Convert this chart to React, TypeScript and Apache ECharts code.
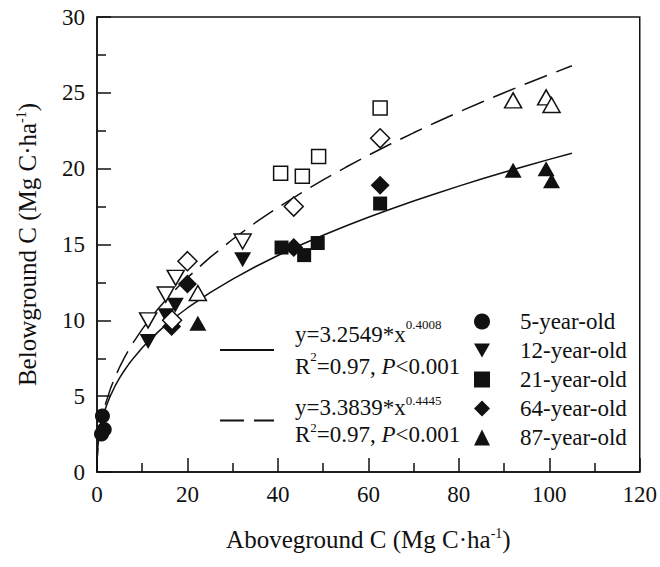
import React, { useEffect, useRef } from 'react';
import * as echarts from 'echarts';

const FONT = 'Liberation Serif';
const INK = '#111111';

// Axis ranges / ticks
const X_MIN = 0, X_MAX = 120, X_STEP = 20;
const Y_MIN = 0, Y_MAX = 30, Y_STEP = 5;

// Series names
const ageNames = ['5-year-old', '12-year-old', '21-year-old', '64-year-old', '87-year-old'];

// Filled symbols: [aboveground C, belowground C]
const age5 = [[1.2, 3.7], [1.0, 2.5], [1.6, 2.8]];
const age12Filled = [[11.3, 8.6], [15.3, 10.3], [17.3, 11.0], [32.2, 14.0]];
const age21Filled = [[40.8, 14.8], [45.8, 14.3], [48.8, 15.1], [62.6, 17.7]];
const age64Filled = [[16.5, 9.6], [20.0, 12.4], [43.5, 14.8], [62.6, 18.9]];
const age87Filled = [[22.3, 9.8], [92.0, 19.9], [99.3, 20.0], [100.5, 19.2]];

// Open symbols
const age12Open = [[11.3, 10.0], [15.2, 11.7], [17.4, 12.8], [32.2, 15.2]];
const age21Open = [[40.6, 19.7], [45.4, 19.5], [49.0, 20.8], [62.6, 24.0]];
const age64Open = [[16.6, 10.0], [20.0, 13.9], [43.5, 17.5], [62.6, 22.0]];
const age87Open = [[22.3, 11.8], [92.0, 24.5], [99.3, 24.7], [100.5, 24.2]];

// Fitted power curves y = a * x^b (as printed on the chart)
const fit1 = { a: 3.2549, b: 0.4008 };
const fit2 = { a: 3.3839, b: 0.4445 };
const fitX = [0, 0.05, 0.2, 0.5, 1, 1.5, 2, 3, 4, 5, 6, 7, 8, 10, 12, 14, 16, 18, 20, 25, 30, 35, 40, 45, 50, 55, 60, 65, 70, 75, 80, 85, 90, 95, 100, 105];

const DOWN_TRI = 'path://M0,0L16,0L8,14Z';

export default function App() {
  const ref = useRef<HTMLDivElement>(null);

  useEffect(() => {
    document.body.style.margin = '0';
    const chart = echarts.init(ref.current!, null, { renderer: 'svg' });

    const curve = (f: { a: number; b: number }) => fitX.map((x) => [x, f.a * Math.pow(x, f.b)]);

    const filled = (name: string, data: number[][], symbol: string, size: number | number[]) => ({
      name,
      type: 'scatter',
      data,
      symbol,
      symbolSize: size,
      itemStyle: { color: INK, opacity: 1 },
      z: 3,
    });
    const open = (name: string, data: number[][], symbol: string, size: number | number[]) => ({
      name,
      type: 'scatter',
      data,
      symbol,
      symbolSize: size,
      itemStyle: { color: '#ffffff', borderColor: INK, borderWidth: 1.5, opacity: 1 },
      z: 4,
    });

    const plainRich = {
      n: { fontFamily: FONT, fontSize: 23, color: INK, lineHeight: 22 },
    };

    const titleRich = {
      t: { fontFamily: FONT, fontSize: 25, color: INK, lineHeight: 27 },
      sup: { fontFamily: FONT, fontSize: 14, color: INK, lineHeight: 14, verticalAlign: 'top' },
    };

    const eqRich = {
      a: { fontFamily: FONT, fontSize: 23, color: INK, lineHeight: 32 },
      ai: { fontFamily: FONT, fontSize: 23, color: INK, lineHeight: 32, fontStyle: 'italic' },
      as: { fontFamily: FONT, fontSize: 13, color: INK, lineHeight: 18, verticalAlign: 'top' },
      b: { fontFamily: FONT, fontSize: 23, color: INK, lineHeight: 27 },
      bi: { fontFamily: FONT, fontSize: 23, color: INK, lineHeight: 27, fontStyle: 'italic' },
      bs: { fontFamily: FONT, fontSize: 13, color: INK, lineHeight: 14, verticalAlign: 'top' },
    };

    const eqLabel: Record<string, string> = {
      fit1: '{a|y=3.2549*x}{as|0.4008}\n{a|R}{as|2}{a|=0.97, }{ai|P}{a|<0.001}',
      fit2: '{b|y=3.3839*x}{bs|0.4445}\n{b|R}{bs|2}{b|=0.97, }{bi|P}{b|<0.001}',
    };

    const axisCommon = {
      type: 'value',
      axisLine: { show: true, lineStyle: { color: INK, width: 1.5 } },
      axisTick: { show: true, inside: true, length: 14, lineStyle: { color: INK, width: 1.5 } },
      minorTick: { show: true, splitNumber: 2, length: 9, lineStyle: { color: INK, width: 1.5 } },
      splitLine: { show: false },
      minorSplitLine: { show: false },
      nameLocation: 'middle',
      nameTextStyle: { rich: titleRich },
    };

    const option: any = {
      animation: false,
      backgroundColor: '#ffffff',
      textStyle: { fontFamily: FONT },
      grid: {
        left: 97,
        right: 19,
        top: 17,
        bottom: 95,
        show: true,
        borderColor: INK,
        borderWidth: 1.5,
        backgroundColor: 'transparent',
      },
      xAxis: {
        ...axisCommon,
        min: X_MIN,
        max: X_MAX,
        interval: X_STEP,
        axisLabel: {
          fontFamily: FONT, fontSize: 23, color: INK, margin: 11,
          formatter: (v: number) => `{n|${v}}`,
          rich: plainRich,
        },
        name: '{t|Aboveground C (Mg C\u00b7ha}{sup|-1}{t|)}',
        nameGap: 54,
      },
      yAxis: {
        ...axisCommon,
        min: Y_MIN,
        max: Y_MAX,
        interval: Y_STEP,
        axisLabel: {
          fontFamily: FONT, fontSize: 23, color: INK, margin: 12,
          formatter: (v: number) => `{n|${v}}`,
          rich: plainRich,
        },
        name: '{t|Belowground C (Mg C\u00b7ha}{sup|-1}{t|)}',
        nameRotate: 90,
        nameGap: 56,
      },
      legend: [
        {
          data: ageNames,
          orient: 'vertical',
          left: 474,
          top: 310,
          padding: 0,
          itemWidth: 16,
          itemHeight: 16,
          itemGap: 6,
          selectedMode: false,
          formatter: (name: string) => `{n|${name}}`,
          textStyle: { fontFamily: FONT, fontSize: 23, color: INK, lineHeight: 22, padding: [0, 0, 0, 25], rich: plainRich },
        },
        {
          data: ['fit1', 'fit2'],
          orient: 'vertical',
          left: 219,
          top: 318,
          padding: 0,
          itemWidth: 54,
          itemHeight: 10,
          itemGap: 16,
          selectedMode: false,
          itemStyle: { opacity: 0 },
          formatter: (name: string) => eqLabel[name],
          textStyle: { fontFamily: FONT, rich: eqRich, padding: [0, 0, 0, 16] },
        },
      ],
      series: [
        {
          name: 'fit1',
          type: 'line',
          data: curve(fit1),
          symbol: 'none',
          lineStyle: { color: INK, width: 1.5, type: 'solid' },
          itemStyle: { color: INK },
          z: 2,
        },
        {
          name: 'fit2',
          type: 'line',
          data: curve(fit2),
          symbol: 'none',
          lineStyle: { color: INK, width: 1.5, type: [24, 10] },
          itemStyle: { color: INK },
          z: 2,
        },
        filled('5-year-old', age5, 'circle', 15),
        filled('12-year-old', age12Filled, DOWN_TRI, [17, 15]),
        filled('21-year-old', age21Filled, 'rect', 14),
        filled('64-year-old', age64Filled, 'diamond', 19),
        filled('87-year-old', age87Filled, 'triangle', [17, 15]),
        open('12-year-old (open)', age12Open, DOWN_TRI, [17, 15]),
        open('21-year-old (open)', age21Open, 'rect', 14),
        open('64-year-old (open)', age64Open, 'diamond', 19),
        open('87-year-old (open)', age87Open, 'triangle', [17, 15]),
      ],
    };

    chart.setOption(option);
    return () => chart.dispose();
  }, []);

  return <div ref={ref} style={{ width: 660, height: 567 }} />;
}
